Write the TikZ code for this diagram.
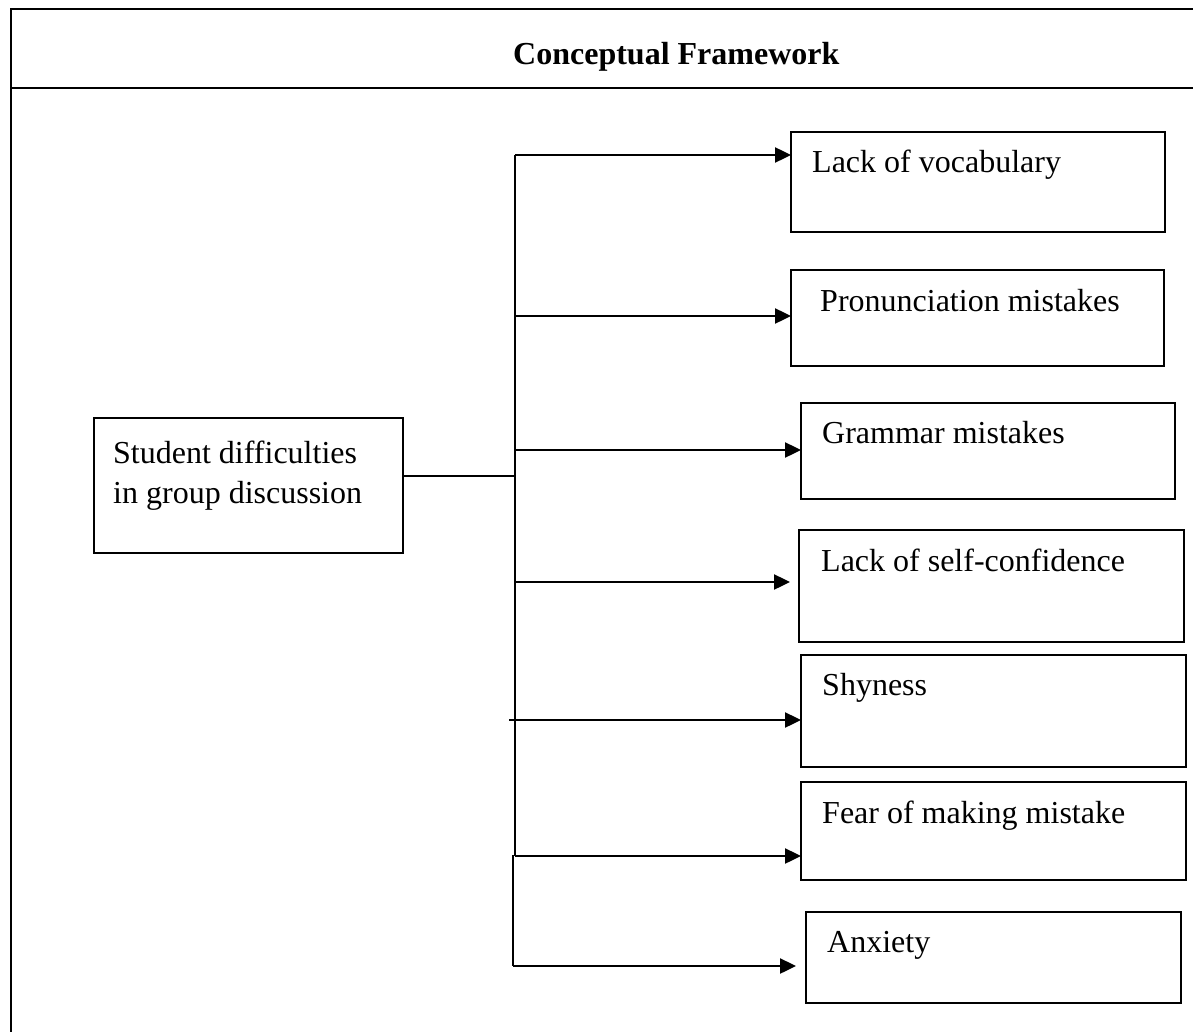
\documentclass[tikz,border=0pt]{standalone}
\usepackage{fontspec}
\setmainfont{Liberation Serif}
\usetikzlibrary{arrows.meta}
\begin{document}
\begin{tikzpicture}[x=1pt,y=-1pt,
  frame/.style={line width=2.6pt,black},
  box/.style={draw,line width=2pt,inner sep=0pt,outer sep=0pt,rectangle},
  lbl/.style={anchor=base west,inner sep=0pt,font=\fontsize{32}{34}\selectfont},
  conn/.style={line width=1.8pt},
  arr/.style={line width=2.4pt,-{Triangle[length=16pt,width=15pt]}}]
\useasboundingbox (0,0) rectangle (1193,1032);
% outer frame
\draw[frame] (11,1034) -- (11,9) -- (1195,9);
\draw[frame] (11,88) -- (1195,88);
\node[anchor=base west,inner sep=0pt,font=\fontsize{32}{34}\selectfont\bfseries] (title) at (513,65) {Conceptual Framework};
% source box
\node[box,minimum width=309pt,minimum height=135pt] (src) at (248.5,485.5) {};
\node[lbl] (srct1) at (113,463) {Student difficulties};
\node[lbl] (srct2) at (113,503) {in group discussion};
% target boxes
\node[box,minimum width=374pt,minimum height=100pt] (b1) at (978,182) {};
\node[box,minimum width=373pt,minimum height=96pt] (b2) at (977.5,318) {};
\node[box,minimum width=374pt,minimum height=96pt] (b3) at (988,451) {};
\node[box,minimum width=385pt,minimum height=112pt] (b4) at (991.5,586) {};
\node[box,minimum width=385pt,minimum height=112pt] (b5) at (993.5,711) {};
\node[box,minimum width=385pt,minimum height=98pt] (b6) at (993.5,831) {};
\node[box,minimum width=375pt,minimum height=91pt] (b7) at (993.5,957.5) {};
\node[lbl] (l1) at (812,173) {Lack of vocabulary};
\node[lbl] (l2) at (820,311) {Pronunciation mistakes};
\node[lbl] (l3) at (822,443) {Grammar mistakes};
\node[lbl] (l4) at (821,571) {Lack of self-confidence};
\node[lbl] (l5) at (822,695) {Shyness};
\node[lbl] (l6) at (822,823) {Fear of making mistake};
\node[lbl] (l7) at (827,952) {Anxiety};
% trunk
\coordinate (j) at (515,476);
\coordinate (t1) at (515,155);
\coordinate (t2) at (515,316);
\coordinate (t3) at (515,450);
\coordinate (t4) at (515,582);
\coordinate (t5) at (509,720);
\coordinate (t6) at (515,856);
\coordinate (t6b) at (513,855);
\coordinate (t7) at (513,966);
\draw[conn] (j -| src.east) -- (j);
\draw[line width=2.2pt] (t1) -- (t6);
\draw[line width=2.2pt] (t6b) -- (t7);
\draw[arr] (t1) -- (t1 -| b1.west);
\draw[arr] (t2) -- (t2 -| b2.west);
\draw[arr] (t3) -- (t3 -| b3.west);
\draw[arr,shorten >=9pt] (t4) -- (t4 -| b4.west);
\draw[arr] (t5) -- (t5 -| b5.west);
\draw[arr] (t6) -- (t6 -| b6.west);
\draw[arr,shorten >=10pt] (t7) -- (t7 -| b7.west);
\end{tikzpicture}
\end{document}
